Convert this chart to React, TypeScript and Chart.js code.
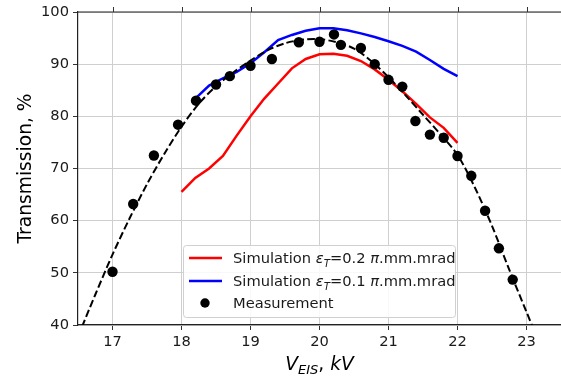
import React, { useEffect, useRef } from 'react';
import { Chart, registerables } from 'chart.js';

Chart.register(...registerables);

// Measurement points
const measV = [17.0, 17.3, 17.6, 17.95, 18.21, 18.5, 18.7, 19.0, 19.31, 19.7, 20.0, 20.21, 20.31, 20.6, 20.8, 21.0, 21.2, 21.39, 21.6, 21.8, 22.0, 22.2, 22.4, 22.6, 22.8];
const measT = [50.2, 63.2, 72.5, 78.4, 83.0, 86.1, 87.7, 89.7, 91.0, 94.2, 94.3, 95.7, 93.7, 93.1, 90.0, 87.0, 85.7, 79.1, 76.5, 75.9, 72.4, 68.6, 61.9, 54.7, 48.7];

// Simulation eps_T = 0.2
const sim02V = [18.0, 18.2, 18.4, 18.6, 18.8, 19.0, 19.2, 19.4, 19.6, 19.8, 20.0, 20.2, 20.4, 20.6, 20.8, 21.0, 21.2, 21.4, 21.6, 21.8, 22.0];
const sim02T = [65.5, 68.2, 70.0, 72.4, 76.3, 80.0, 83.4, 86.3, 89.2, 91.0, 91.9, 92.0, 91.6, 90.6, 89.0, 87.0, 84.8, 82.4, 79.8, 77.8, 74.9];

// Simulation eps_T = 0.1
const sim01V = [18.2, 18.4, 18.6, 18.8, 19.0, 19.2, 19.4, 19.6, 19.8, 20.0, 20.2, 20.4, 20.6, 20.8, 21.0, 21.2, 21.4, 21.6, 21.8, 22.0];
const sim01T = [83.4, 85.9, 87.3, 88.5, 90.2, 92.3, 94.6, 95.6, 96.4, 96.9, 96.9, 96.5, 95.9, 95.2, 94.4, 93.5, 92.4, 90.8, 89.1, 87.7];

// Fit curve (dashed)
const fitV = [16.5, 16.75, 17.0, 17.25, 17.5, 17.75, 18.0, 18.25, 18.5, 18.75, 19.0, 19.25, 19.5, 19.75, 20.0, 20.25, 20.5, 20.75, 21.0, 21.25, 21.5, 21.75, 22.0, 22.25, 22.5, 22.75, 23.0, 23.25];
const fitT = [37.8, 45.8, 53.5, 60.5, 67.0, 72.8, 78.0, 82.4, 85.8, 88.4, 90.7, 92.7, 94.0, 94.7, 94.8, 94.2, 93.0, 90.6, 87.5, 84.0, 80.3, 76.6, 72.6, 66.4, 59.0, 50.6, 42.5, 34.5];

const xTickValues = [17, 18, 19, 20, 21, 22, 23];
const yTickValues = [40, 50, 60, 70, 80, 90, 100];

const legendLabels = [
  'Simulation \u03B5T=0.2 \u03C0.mm.mrad',
  'Simulation \u03B5T=0.1 \u03C0.mm.mrad',
  'Measurement',
];

const FAMILY = '"DejaVu Sans", sans-serif';
const TICK_SIZE = 14.67;
const TITLE_SIZE = 18.67;

type Seg = { t: string; it?: boolean; sub?: boolean };

function richWidth(ctx: CanvasRenderingContext2D, segs: Seg[], size: number) {
  let w = 0;
  for (const s of segs) {
    const fs = s.sub ? size * 0.7 : size;
    ctx.font = `${s.it ? 'italic ' : ''}${fs}px ${FAMILY}`;
    w += ctx.measureText(s.t).width;
  }
  return w;
}

function drawRich(ctx: CanvasRenderingContext2D, segs: Seg[], x: number, y: number, size: number) {
  let cx = x;
  ctx.textBaseline = 'alphabetic';
  ctx.textAlign = 'left';
  for (const s of segs) {
    const fs = s.sub ? size * 0.7 : size;
    ctx.font = `${s.it ? 'italic ' : ''}${fs}px ${FAMILY}`;
    const dy = s.sub ? size * 0.22 : 0;
    ctx.fillText(s.t, cx, y + dy);
    cx += ctx.measureText(s.t).width;
  }
}

function labelSegs(label: string): Seg[] {
  const segs: Seg[] = [];
  const m = label.match(/^(.*?)\u03B5T(.*?)\u03C0(.*)$/);
  if (!m) return [{ t: label }];
  segs.push({ t: m[1] });
  segs.push({ t: '\u03B5', it: true });
  segs.push({ t: 'T', it: true, sub: true });
  segs.push({ t: m[2] });
  segs.push({ t: '\u03C0', it: true });
  segs.push({ t: m[3] });
  return segs;
}

const decorPlugin = {
  id: 'decor',
  afterDraw(chart: any) {
    const ctx: CanvasRenderingContext2D = chart.ctx;
    const ca = chart.chartArea;
    const xs = chart.scales.x;
    ctx.save();
    // top spine + ticks
    ctx.strokeStyle = '#222';
    ctx.lineWidth = 1.2;
    ctx.beginPath();
    ctx.moveTo(ca.left, ca.top);
    ctx.lineTo(ca.right, ca.top);
    ctx.stroke();
    ctx.lineWidth = 1;
    ctx.strokeStyle = '#333';
    for (const v of xTickValues) {
      const px = Math.round(xs.getPixelForValue(v)) + 0.5;
      ctx.beginPath();
      ctx.moveTo(px, ca.top);
      ctx.lineTo(px, ca.top - 5);
      ctx.stroke();
    }

    // legend
    const bx = ca.left + 105, by = ca.top + 233, bw = 272, bh = 72;
    ctx.fillStyle = 'rgba(255,255,255,0.85)';
    ctx.strokeStyle = '#d0d0d0';
    ctx.lineWidth = 1;
    ctx.beginPath();
    (ctx as any).roundRect(bx + 0.5, by + 0.5, bw, bh, 3);
    ctx.fill();
    ctx.stroke();
    const rowY = [by + 13, by + 36, by + 58];
    const colors = ['#ff0000', '#0000ff'];
    for (let i = 0; i < 3; i++) {
      const cy = rowY[i];
      if (i < 2) {
        ctx.strokeStyle = colors[i];
        ctx.lineWidth = 2.5;
        ctx.setLineDash([]);
        ctx.beginPath();
        ctx.moveTo(bx + 6, cy);
        ctx.lineTo(bx + 39, cy);
        ctx.stroke();
      } else {
        ctx.fillStyle = '#000';
        ctx.beginPath();
        ctx.arc(bx + 22, cy, 4.7, 0, Math.PI * 2);
        ctx.fill();
      }
      ctx.fillStyle = '#1a1a1a';
      drawRich(ctx, labelSegs(legendLabels[i]), bx + 50, cy + TICK_SIZE * 0.36, TICK_SIZE);
    }

    // x title
    const xt: Seg[] = [
      { t: 'V', it: true },
      { t: 'EIS', it: true, sub: true },
      { t: ', ' },
      { t: 'kV', it: true },
    ];
    ctx.fillStyle = '#000';
    const w = richWidth(ctx, xt, TITLE_SIZE);
    drawRich(ctx, xt, (ca.left + ca.right) / 2 - w / 2, 370, TITLE_SIZE);

    // y title
    ctx.save();
    ctx.translate(31, (ca.top + ca.bottom) / 2);
    ctx.rotate(-Math.PI / 2);
    ctx.font = `${TITLE_SIZE}px ${FAMILY}`;
    ctx.textAlign = 'center';
    ctx.textBaseline = 'alphabetic';
    ctx.fillText('Transmission, %', 0, 0);
    ctx.restore();

    ctx.restore();
  },
};

export default function App() {
  const ref = useRef<HTMLCanvasElement | null>(null);
  useEffect(() => {
    if (!ref.current) return;
    const toXY = (xs: number[], ys: number[]) => xs.map((x, i) => ({ x, y: ys[i] }));
    const chart = new Chart(ref.current, {
      type: 'line',
      data: {
        datasets: [
          {
            label: legendLabels[2],
            data: toXY(measV, measT),
            showLine: false,
            pointRadius: 5.2,
            pointBackgroundColor: '#000',
            pointBorderWidth: 0,
            borderColor: '#000',
            order: 0,
          },
          {
            label: 'fit',
            data: toXY(fitV, fitT),
            borderColor: '#000',
            borderWidth: 2,
            borderDash: [7.4, 3.2],
            pointRadius: 0,
            tension: 0.3,
            order: 1,
          },
          {
            label: legendLabels[1],
            data: toXY(sim01V, sim01T),
            borderColor: '#0000ff',
            borderWidth: 2.5,
            pointRadius: 0,
            tension: 0,
            order: 2,
          },
          {
            label: legendLabels[0],
            data: toXY(sim02V, sim02T),
            borderColor: '#ff0000',
            borderWidth: 2.5,
            pointRadius: 0,
            tension: 0,
            order: 3,
          },
        ],
      },
      options: {
        animation: false,
        responsive: false,
        events: [],
        layout: { autoPadding: false, padding: { top: 12, right: 0, left: 0, bottom: 0 } },
        plugins: { legend: { display: false }, tooltip: { enabled: false } },
        scales: {
          x: {
            type: 'linear',
            min: 16.5,
            max: 23.5,
            afterFit: (s: any) => { s.height = 51; s.paddingLeft = 0; s.paddingRight = 0; },
            afterBuildTicks: (s: any) => { s.ticks = xTickValues.map((v) => ({ value: v })); },
            ticks: {
              includeBounds: false,
              stepSize: 1,
              color: '#1a1a1a',
              padding: 3,
              maxRotation: 0,
              font: { family: FAMILY, size: TICK_SIZE },
            },
            grid: { color: '#cfcfcf', lineWidth: 1, tickColor: '#333', tickLength: 5 },
            border: { color: '#222', width: 1.2 },
          },
          y: {
            type: 'linear',
            min: 40,
            max: 100,
            afterFit: (s: any) => { s.width = 78; s.paddingTop = 0; s.paddingBottom = 0; },
            afterBuildTicks: (s: any) => { s.ticks = yTickValues.map((v) => ({ value: v })); },
            ticks: {
              includeBounds: false,
              stepSize: 10,
              color: '#1a1a1a',
              padding: 4,
              font: { family: FAMILY, size: TICK_SIZE },
            },
            grid: { color: '#cfcfcf', lineWidth: 1, tickColor: '#333', tickLength: 5 },
            border: { color: '#222', width: 1.2 },
          },
        },
      },
      plugins: [decorPlugin],
    });
    return () => chart.destroy();
  }, []);
  return (
    <div style={{ position: 'fixed', left: 0, top: 0, width: 561, height: 376, background: '#fff' }}>
      <canvas ref={ref} width={561} height={376} style={{ display: 'block', width: 561, height: 376 }} />
    </div>
  );
}
